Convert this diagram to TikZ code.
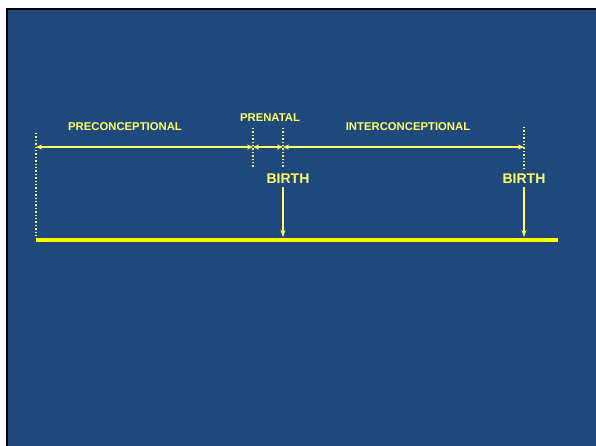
\documentclass[tikz,border=0pt]{standalone}
\usepackage{fontspec}
\setmainfont{Liberation Sans}
\usetikzlibrary{arrows.meta}
\definecolor{bg}{RGB}{31,73,125}
\definecolor{ylt}{RGB}{255,255,102}
\definecolor{barcol}{RGB}{255,255,0}
\begin{document}
\begin{tikzpicture}[x=1pt,y=-1pt,
  lbl/.style={text=ylt,font=\bfseries\fontsize{11.3}{12}\selectfont,inner sep=0pt},
  birthlbl/.style={text=ylt,font=\bfseries\fontsize{14}{16}\selectfont,inner sep=0pt},
  span/.style={draw=ylt,line width=1.3pt,{Stealth[length=6pt,width=5pt]}-{Stealth[length=6pt,width=5pt]}},
  mark line/.style={draw=ylt,line width=1.4pt,dotted},
  down/.style={draw=ylt,line width=1.3pt,-{Stealth[length=7pt,width=5pt]}}]
\useasboundingbox (0,0) rectangle (596,446);
\fill[white] (0,0) rectangle (596,446);
\fill[bg] (6,8) rectangle (596,446);
\draw[black,line width=2pt] (7,446) -- (7,9) -- (596,9);
% marks
\coordinate (l0) at (36,133);
\coordinate (l1) at (36,238);
\coordinate (p0) at (253,128);
\coordinate (p1) at (253,167);
\coordinate (q0) at (283,128);
\coordinate (q1) at (283,167);
\coordinate (r0) at (524,127);
\coordinate (r1) at (524,170);
\draw[mark line] (l0) -- (l1);
\draw[mark line] (p0) -- (p1);
\draw[mark line] (q0) -- (q1);
\draw[mark line] (r0) -- (r1);
% spans
\coordinate (a0) at (36,147);
\coordinate (a1) at (253,147);
\coordinate (a2) at (283,147);
\coordinate (a3) at (524,147);
\draw[span] (a0) -- (a1);
\draw[span] (a1) -- (a2);
\draw[span] (a2) -- (a3);
% labels
\node[lbl] (pre) at (125,127) {PRECONCEPTIONAL};
\node[lbl] (pren) at (270,118) {PRENATAL};
\node[lbl] (inter) at (408,127) {INTERCONCEPTIONAL};
\node[birthlbl] (b1) at (288,179) {BIRTH};
\node[birthlbl] (b2) at (524,179) {BIRTH};
% baseline
\coordinate (t0) at (36,240);
\coordinate (t1) at (558,240);
\draw[draw=barcol,line width=4pt] (t0) -- (t1);
\coordinate (d1) at (283,237);
\coordinate (d2) at (524,237);
\draw[down] (b1.south -| d1) ++(0,3) -- (d1);
\draw[down] (b2.south -| d2) ++(0,3) -- (d2);
\end{tikzpicture}
\end{document}
